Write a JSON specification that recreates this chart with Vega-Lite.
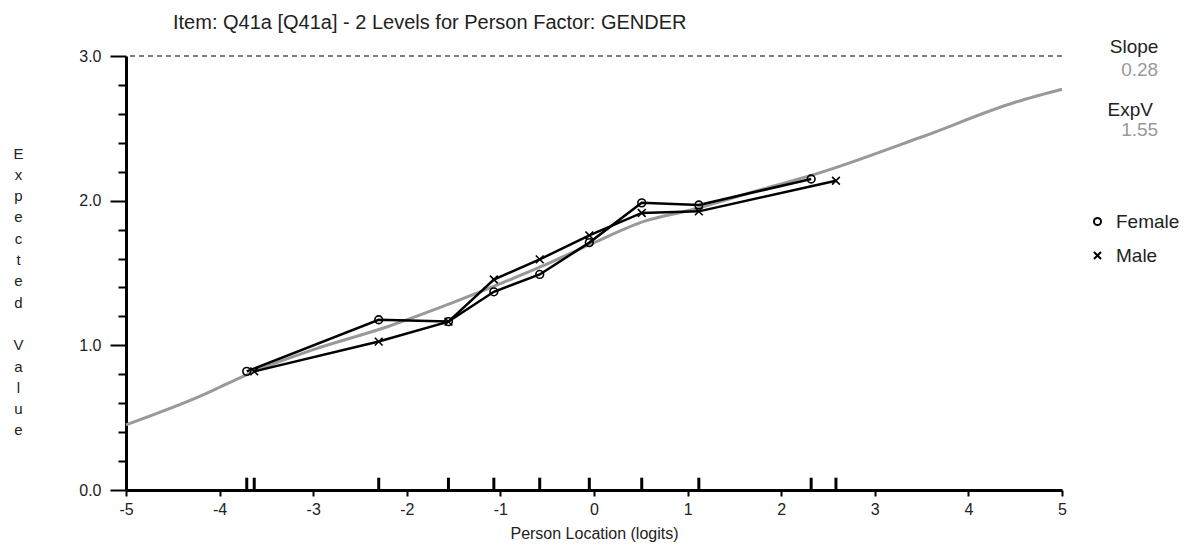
{
  "$schema": "https://vega.github.io/schema/vega-lite/v6.json",
  "width": 936,
  "height": 434,
  "autosize": {"type": "none"},
  "padding": {"left": 126, "top": 56, "right": 129, "bottom": 62},
  "background": "white",
  "config": {
    "view": {"stroke": null},
    "font": "Liberation Sans",
    "axis": {"labelFont": "Liberation Sans", "titleFont": "Liberation Sans", "labelColor": "#222", "titleColor": "#222", "labelFontSize": 16, "titleFontSize": 15, "titleFontWeight": "normal", "grid": false, "domainColor": "black", "tickColor": "black"}
  },
  "title": {
    "text": "Item: Q41a [Q41a] - 2 Levels for Person Factor: GENDER",
    "anchor": "start",
    "frame": "group",
    "dx": 47,
    "offset": 5,
    "fontSize": 20,
    "fontWeight": "normal",
    "font": "Liberation Sans",
    "color": "#222"
  },
  "datasets": {
    "obs": [
      {"group": "Female", "loc": -3.71, "ev": 0.82},
      {"group": "Female", "loc": -2.30, "ev": 1.177},
      {"group": "Female", "loc": -1.555, "ev": 1.164},
      {"group": "Female", "loc": -1.07, "ev": 1.37},
      {"group": "Female", "loc": -0.58, "ev": 1.49},
      {"group": "Female", "loc": -0.05, "ev": 1.71},
      {"group": "Female", "loc": 0.51, "ev": 1.985},
      {"group": "Female", "loc": 1.12, "ev": 1.97},
      {"group": "Female", "loc": 2.32, "ev": 2.15},
      {"group": "Male", "loc": -3.63, "ev": 0.82},
      {"group": "Male", "loc": -2.30, "ev": 1.026},
      {"group": "Male", "loc": -1.555, "ev": 1.164},
      {"group": "Male", "loc": -1.07, "ev": 1.455},
      {"group": "Male", "loc": -0.58, "ev": 1.594},
      {"group": "Male", "loc": -0.05, "ev": 1.76},
      {"group": "Male", "loc": 0.51, "ev": 1.915},
      {"group": "Male", "loc": 1.12, "ev": 1.926},
      {"group": "Male", "loc": 2.585, "ev": 2.138}
    ],
    "curve": [
      {"loc": -5.0, "ev": 0.45},
      {"loc": -4.2, "ev": 0.65},
      {"loc": -3.7, "ev": 0.80},
      {"loc": -3.0, "ev": 0.97},
      {"loc": -2.2, "ev": 1.13},
      {"loc": -1.65, "ev": 1.26},
      {"loc": -1.1, "ev": 1.40},
      {"loc": -0.58, "ev": 1.54},
      {"loc": 0.0, "ev": 1.71},
      {"loc": 0.55, "ev": 1.86},
      {"loc": 1.0, "ev": 1.93},
      {"loc": 1.8, "ev": 2.08},
      {"loc": 2.4, "ev": 2.19},
      {"loc": 3.5, "ev": 2.44},
      {"loc": 4.5, "ev": 2.68},
      {"loc": 5.0, "ev": 2.77}
    ],
    "rug": [
      {"loc": -3.71}, {"loc": -3.63}, {"loc": -2.30}, {"loc": -1.555}, {"loc": -1.07},
      {"loc": -0.58}, {"loc": -0.05}, {"loc": 0.51}, {"loc": 1.12}, {"loc": 2.32}, {"loc": 2.585}
    ]
  },
  "layer": [
    {
      "data": {"values": [{}]},
      "mark": {"type": "rule", "stroke": "black", "strokeWidth": 1.2, "strokeDash": [5, 4]},
      "encoding": {"y": {"datum": 3}}
    },
    {
      "data": {"name": "curve"},
      "mark": {"type": "line", "stroke": "#999999", "strokeWidth": 3, "interpolate": "monotone"},
      "encoding": {
        "x": {"field": "loc", "type": "quantitative", "scale": {"domain": [-5, 5], "nice": false, "zero": false},
          "axis": {"values": [-5, -4, -3, -2, -1, 0, 1, 2, 3, 4, 5], "tickCount": 20,
            "labelExpr": "datum.value < 0 ? '-' + abs(datum.value) : '' + datum.value",
            "title": "Person Location (logits)", "titleFontSize": 16, "domainWidth": 3, "tickWidth": 2, "tickSize": 6, "labelPadding": 5, "titlePadding": 8, "labelFlush": false}},
        "y": {"field": "ev", "type": "quantitative", "scale": {"domain": [0, 3], "nice": false},
          "axis": {
            "values": [0, 0.2, 0.4, 0.6, 0.8, 1, 1.2, 1.4, 1.6, 1.8, 2, 2.2, 2.4, 2.6, 2.8, 3],
            "tickCount": 40,
            "labelExpr": "abs(round(datum.value) - datum.value) < 0.001 ? format(datum.value, '.1f') : ''",
            "tickSize": {"condition": {"test": "abs(round(datum.value) - datum.value) < 0.001", "value": 16}, "value": 8},
            "tickWidth": 2,
            "domainWidth": 3,
            "labelPadding": 9,
            "labelFlush": false,
            "title": ["E", "x", "p", "e", "c", "t", "e", "d", "\u200b", "V", "a", "l", "u", "e"],
            "titleAngle": 0,
            "titleX": -108,
            "titleY": 90,
            "titleAlign": "center",
            "titleBaseline": "top",
            "titleLineHeight": 21.3
          }}
      }
    },
    {
      "data": {"name": "rug"},
      "mark": {"type": "rule", "stroke": "black", "strokeWidth": 3},
      "encoding": {
        "x": {"field": "loc", "type": "quantitative"},
        "y": {"datum": 0},
        "y2": {"datum": 0.085}
      }
    },
    {
      "data": {"name": "obs"},
      "mark": {"type": "line", "stroke": "black", "strokeWidth": 2.5},
      "encoding": {
        "x": {"field": "loc", "type": "quantitative"},
        "y": {"field": "ev", "type": "quantitative"},
        "detail": {"field": "group"},
        "order": {"field": "loc"}
      }
    },
    {
      "data": {"name": "obs"},
      "mark": {"type": "point", "filled": false, "stroke": "black", "strokeWidth": 1.6, "opacity": 1},
      "encoding": {
        "x": {"field": "loc", "type": "quantitative"},
        "y": {"field": "ev", "type": "quantitative"},
        "shape": {"field": "group", "type": "nominal",
          "scale": {"domain": ["Female", "Male"], "range": ["circle", "M-1,-1L1,1M-1,1L1,-1"]},
          "legend": {"title": null, "orient": "none", "legendX": 962, "legendY": 156, "labelFontSize": 19, "labelColor": "#222", "labelFont": "Liberation Sans", "symbolStrokeColor": "black", "symbolFillColor": "transparent", "symbolStrokeWidth": 2, "symbolSize": 50, "rowPadding": 14, "labelOffset": 9}},
        "size": {"value": 60}
      }
    },
    {
      "data": {"values": [{}]},
      "mark": {"type": "text", "text": "Slope", "align": "center", "baseline": "middle", "fontSize": 19, "color": "#222", "font": "Liberation Sans"},
      "encoding": {"x": {"datum": 5.77}, "y": {"datum": 3.062}}
    },
    {
      "data": {"values": [{}]},
      "mark": {"type": "text", "text": "0.28", "align": "center", "baseline": "middle", "fontSize": 19, "color": "#999999", "font": "Liberation Sans"},
      "encoding": {"x": {"datum": 5.83}, "y": {"datum": 2.903}}
    },
    {
      "data": {"values": [{}]},
      "mark": {"type": "text", "text": "ExpV", "align": "center", "baseline": "middle", "fontSize": 19, "color": "#222", "font": "Liberation Sans"},
      "encoding": {"x": {"datum": 5.73}, "y": {"datum": 2.627}}
    },
    {
      "data": {"values": [{}]},
      "mark": {"type": "text", "text": "1.55", "align": "center", "baseline": "middle", "fontSize": 19, "color": "#999999", "font": "Liberation Sans"},
      "encoding": {"x": {"datum": 5.83}, "y": {"datum": 2.488}}
    }
  ]
}
